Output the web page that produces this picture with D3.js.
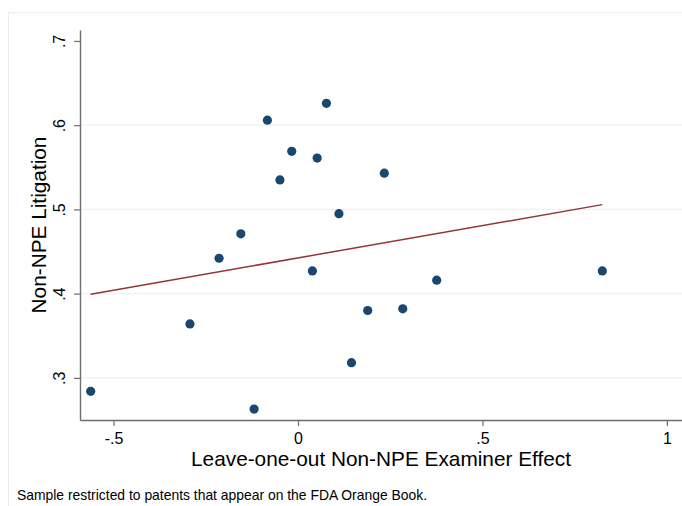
<!DOCTYPE html>
<html>
<head>
<meta charset="utf-8">
<script src="https://cdn.jsdelivr.net/npm/d3@7"></script>
<style>
  html, body { margin: 0; padding: 0; background: #fff; }
  svg { display: block; font-family: "Liberation Sans", Arial, sans-serif; }
</style>
</head>
<body>
<svg id="chart" width="682" height="506"></svg>
<script>
// Examiner effect (x) vs. non-NPE litigation rate (y), one point per bin
const examinerEffect = [-0.562, -0.293, -0.214, -0.155, -0.119, -0.083, -0.049, -0.017,
                        0.039, 0.052, 0.077, 0.111, 0.145, 0.189, 0.234, 0.284, 0.376, 0.825];
const litigation     = [0.284, 0.364, 0.442, 0.471, 0.263, 0.606, 0.535, 0.569,
                        0.427, 0.561, 0.626, 0.495, 0.318, 0.380, 0.543, 0.382, 0.416, 0.427];

// Linear fit, evaluated at the ends of the data range
const fitX = [-0.562, 0.825];
const fitY = [0.3993, 0.5057];

const xTicks = [-0.5, 0, 0.5, 1];
const xTickLabels = ["-.5", "0", ".5", "1"];
const yTicks = [0.3, 0.4, 0.5, 0.6, 0.7];
const yTickLabels = [".3", ".4", ".5", ".6", ".7"];
const yGrid = [0.3, 0.4, 0.5, 0.6];

(function draw() {
  const svg = d3.select("#chart");

  // outer graph frame
  svg.append("rect")
    .attr("x", 8.5).attr("y", 12.5)
    .attr("width", 700).attr("height", 520)
    .attr("fill", "none").attr("stroke", "#e6eeee").attr("stroke-width", 1);

  const plotL = 80, plotR = 682, plotT = 30, plotB = 420;
  const x = d3.scaleLinear().domain([-0.591, 1.041]).range([plotL, plotR]);
  const y = d3.scaleLinear().domain([0.25, 0.713]).range([plotB, plotT]);

  // horizontal gridlines
  svg.append("g").selectAll("line").data(yGrid).join("line")
    .attr("x1", plotL).attr("x2", plotR)
    .attr("y1", d => y(d)).attr("y2", d => y(d))
    .attr("stroke", "#eaf2f3").attr("stroke-width", 1.2);

  // y axis
  const yAxis = svg.append("g")
    .attr("transform", `translate(${plotL},0)`)
    .call(d3.axisLeft(y).tickValues(yTicks).tickFormat((d, i) => yTickLabels[i]).tickSize(6).tickSizeOuter(0));
  yAxis.select(".domain").attr("stroke", "#6e6e6e").attr("stroke-width", 1.4);
  yAxis.selectAll(".tick line").attr("stroke", "#6e6e6e").attr("stroke-width", 1.2);
  yAxis.selectAll(".tick text")
    .attr("font-size", 16).attr("fill", "#000")
    .attr("text-anchor", "middle")
    .attr("x", 0).attr("y", 0).attr("dy", 0)
    .attr("transform", "translate(-15.5,0) rotate(-90)");

  // x axis
  const xAxis = svg.append("g")
    .attr("transform", `translate(0,${plotB})`)
    .call(d3.axisBottom(x).tickValues(xTicks).tickFormat((d, i) => xTickLabels[i]).tickSize(6).tickSizeOuter(0));
  xAxis.select(".domain").attr("stroke", "#6e6e6e").attr("stroke-width", 1.4);
  xAxis.selectAll(".tick line").attr("stroke", "#6e6e6e").attr("stroke-width", 1.2);
  xAxis.selectAll(".tick text")
    .attr("font-size", 16).attr("fill", "#000")
    .attr("y", 12.5).attr("dy", "0.71em");

  // fitted line
  svg.append("line")
    .attr("x1", x(fitX[0])).attr("y1", y(fitY[0]))
    .attr("x2", x(fitX[1])).attr("y2", y(fitY[1]))
    .attr("stroke", "#90353b").attr("stroke-width", 1.5);

  // scatter markers
  const pts = d3.zip(examinerEffect, litigation);
  svg.append("g").selectAll("circle").data(pts).join("circle")
    .attr("cx", d => x(d[0])).attr("cy", d => y(d[1]))
    .attr("r", 4.6)
    .attr("fill", "#1a476f");

  // axis titles
  svg.append("text")
    .attr("x", (plotL + plotR) / 2).attr("y", 466)
    .attr("text-anchor", "middle").attr("font-size", 20.8).attr("fill", "#000")
    .text("Leave-one-out Non-NPE Examiner Effect");

  svg.append("text")
    .attr("transform", `translate(46,${(plotT + plotB) / 2}) rotate(-90)`)
    .attr("text-anchor", "middle").attr("font-size", 20.8).attr("fill", "#000")
    .text("Non-NPE Litigation");

  // note
  svg.append("text")
    .attr("x", 17).attr("y", 499.5)
    .attr("font-size", 13.9).attr("fill", "#000")
    .text("Sample restricted to patents that appear on the FDA Orange Book.");
})();
</script>
</body>
</html>
